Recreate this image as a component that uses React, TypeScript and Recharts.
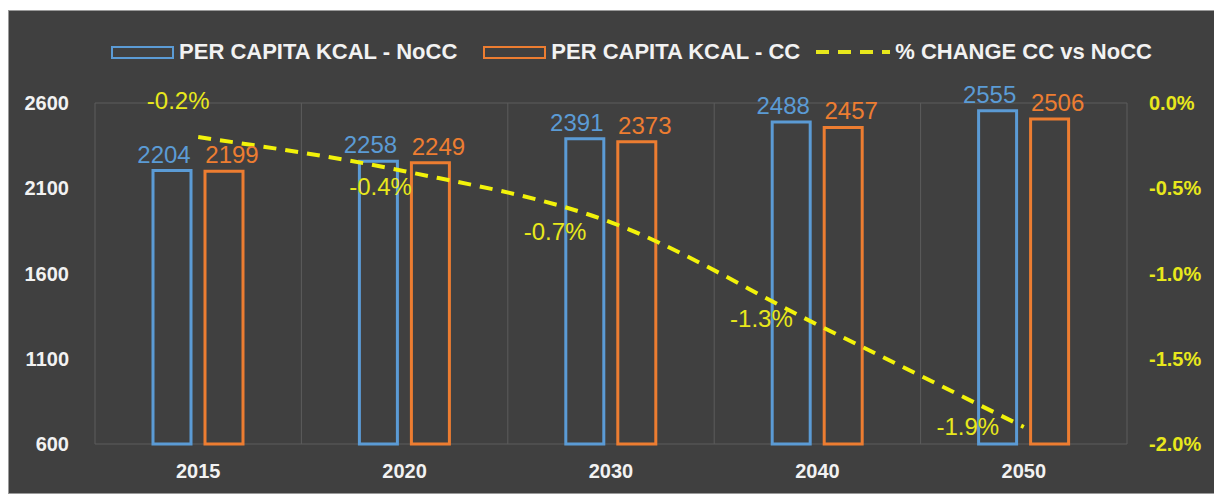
import {
  ComposedChart, Bar, Line, XAxis, YAxis, CartesianGrid, LabelList,
} from 'recharts';

const years = ['2015', '2020', '2030', '2040', '2050'];
const kcalNoCC = [2204, 2258, 2391, 2488, 2555];
const kcalCC = [2199, 2249, 2373, 2457, 2506];
const pctChange = [-0.2, -0.4, -0.7, -1.3, -1.9];
const leftTicks = [600, 1100, 1600, 2100, 2600];
const rightTicks = [-2, -1.5, -1, -0.5, 0];

const BLUE = '#5b9bd5';
const ORANGE = '#ed7d31';
const YELLOW = '#e8e81c';
const BG = '#404040';
const FONT = '"Liberation Sans", Arial, sans-serif';

const data = years.map((y, i) => ({
  year: y,
  nocc: kcalNoCC[i],
  cc: kcalCC[i],
  pct: pctChange[i],
}));

const fmtPct = (v: number) => `${v.toFixed(1)}%`;

// label placement for the % line, roughly as in the original
const PctLabel = (props: any) => {
  const { x, y, value, index } = props;
  let dx = -56;
  let dy = 8;
  if (index === 0) { dx = -20; dy = -28; }
  else if (index === 1) { dx = -24; dy = 24; }
  else if (index === 2) { dx = -56; dy = 18; }
  else if (index === 3) { dx = -56; dy = 2; }
  return (
    <text x={x + dx} y={y + dy} fill={YELLOW} fontSize={24} textAnchor="middle" fontFamily={FONT}>
      {fmtPct(value)}
    </text>
  );
};

function Legend() {
  const item = (sw: JSX.Element, label: string, gap: number) => (
    <div style={{ display: 'flex', alignItems: 'center', marginRight: gap }}>
      {sw}
      <span style={{ marginLeft: 5 }}>{label}</span>
    </div>
  );
  const box = (c: string) => (
    <div style={{ width: 63, height: 13, border: `2.5px solid ${c}`, boxSizing: 'border-box' }} />
  );
  return (
    <div style={{
      position: 'absolute', top: 28, left: 0, width: '100%', display: 'flex',
      justifyContent: 'center', color: '#f2f2f2', fontFamily: FONT, fontWeight: 700, fontSize: 22,
    }}>
      <div style={{ display: 'flex', marginLeft: 40 }}>
        {item(box(BLUE), 'PER CAPITA KCAL - NoCC', 26)}
        {item(box(ORANGE), 'PER CAPITA KCAL - CC', 14)}
        {item(
          <svg width={76} height={12}><line x1={2} y1={6} x2={76} y2={6} stroke={YELLOW} strokeWidth={4} strokeDasharray="13 9" /></svg>,
          '% CHANGE CC vs NoCC', 0,
        )}
      </div>
    </div>
  );
}

export default function App() {
  return (
    <div style={{
      position: 'relative', width: 1207, height: 484, marginTop: 2, background: BG,
      border: '1px solid #9a9a9a', boxSizing: 'border-box', overflow: 'hidden',
    }}>
      <Legend />
      <ComposedChart width={1205} height={484} data={data}
        margin={{ top: 92, right: 17, left: 26, bottom: 11 }}
        barGap={14} barCategoryGap="28%">
        <CartesianGrid stroke="#5c5c5c" strokeWidth={1}
          verticalCoordinatesGenerator={({ offset }: any) =>
            years.map((_, i) => offset.left + (i * offset.width) / years.length).concat(offset.left + offset.width)}
        />
        <XAxis dataKey="year" axisLine={false} tickLine={false} height={40} tickMargin={14}
          tick={{ fill: '#f2f2f2', fontSize: 20, fontWeight: 700, fontFamily: FONT }} />
        <YAxis yAxisId="kcal" domain={[600, 2600]} ticks={leftTicks} axisLine={false} tickLine={false}
          width={60} tickMargin={20} interval={0}
          tick={{ fill: '#f2f2f2', fontSize: 20, fontWeight: 700, fontFamily: FONT }} />
        <YAxis yAxisId="pct" orientation="right" domain={[-2, 0]} ticks={rightTicks} axisLine={false}
          tickLine={false} width={70} tickMargin={16} interval={0} tickFormatter={fmtPct}
          tick={{ fill: YELLOW, fontSize: 20, fontWeight: 700, fontFamily: FONT }} />
        <Bar yAxisId="kcal" dataKey="nocc" fill="none" stroke={BLUE} strokeWidth={3}
          isAnimationActive={false} barSize={38}>
          <LabelList dataKey="nocc" position="top" offset={8} fill={BLUE} fontSize={24}
            fontFamily={FONT} dx={-8} />
        </Bar>
        <Bar yAxisId="kcal" dataKey="cc" fill="none" stroke={ORANGE} strokeWidth={3}
          isAnimationActive={false} barSize={38}>
          <LabelList dataKey="cc" position="top" offset={8} fill={ORANGE} fontSize={24}
            fontFamily={FONT} dx={8} />
        </Bar>
        <Line yAxisId="pct" type="monotone" dataKey="pct" stroke="#f2f20a" strokeWidth={4}
          strokeDasharray="13 9" dot={false} isAnimationActive={false}>
          <LabelList dataKey="pct" content={<PctLabel />} />
        </Line>
      </ComposedChart>
    </div>
  );
}
